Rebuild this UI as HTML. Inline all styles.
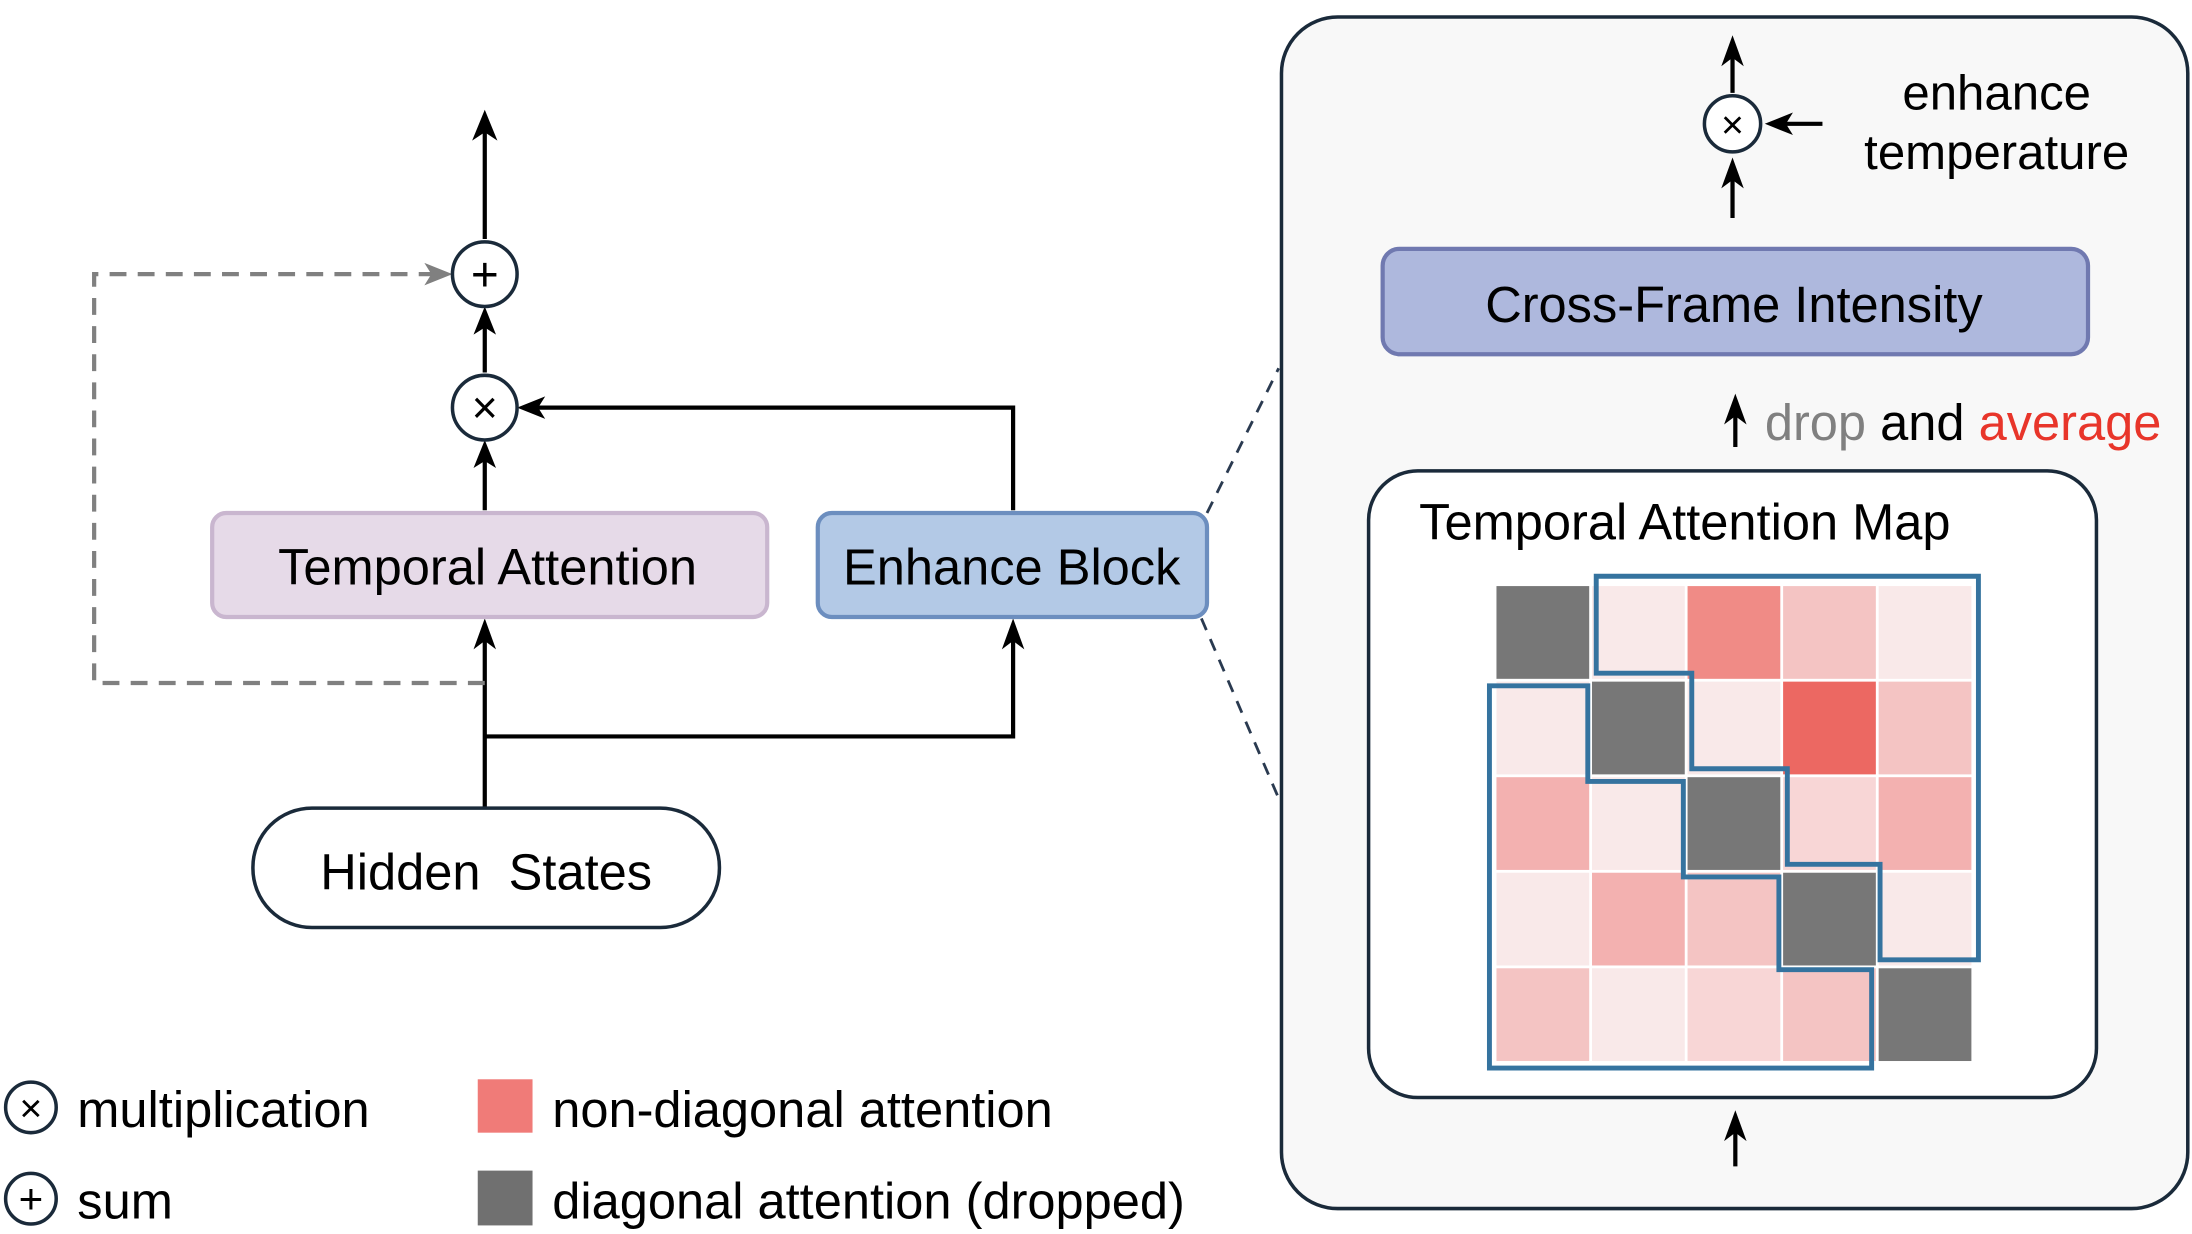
<!DOCTYPE html>
<html><head><meta charset="utf-8"><style>
html,body{margin:0;padding:0;background:#fff;}
svg{display:block;font-family:"Liberation Sans",Arial,sans-serif;}
</style></head><body>
<svg width="2192" height="1234" viewBox="0 0 1560 878" xmlns="http://www.w3.org/2000/svg">
<rect width="1560" height="878" fill="#fff"/>
<g stroke="#000" stroke-width="3" fill="none">
  <line x1="345" y1="170" x2="345" y2="84"/>
  <line x1="345" y1="265" x2="345" y2="224"/>
  <line x1="345" y1="363" x2="345" y2="318"/>
  <polyline points="721,363 721,290 374,290"/>
  <line x1="345" y1="575" x2="345" y2="446"/>
  <polyline points="345,524 721,524 721,446"/>
</g>
<g fill="#000">
  <path d="M345,78 L336,100 L345,94 L354,100Z"/>
  <path d="M345,218 L337,238 L345,233 L353,238Z"/>
  <path d="M345,313 L337,333 L345,328 L353,333Z"/>
  <path d="M368,290 L388,282 L383,290 L388,298Z"/>
  <path d="M345,440 L337,462 L345,456 L353,462Z"/>
  <path d="M721,440 L713,462 L721,456 L729,462Z"/>
</g>
<polyline points="345,486 67,486 67,195 314,195" fill="none" stroke="#808080" stroke-width="3" stroke-dasharray="12,8"/>
<path d="M322,195 L302,187 L307,195 L302,203Z" fill="#808080"/>
<circle cx="345" cy="195" r="23" fill="#fff" stroke="#1a2a3a" stroke-width="2.5"/>
<text x="345" y="207" font-size="34" text-anchor="middle">+</text>
<circle cx="345" cy="290" r="23" fill="#fff" stroke="#1a2a3a" stroke-width="2.5"/>
<text x="345" y="301" font-size="32" text-anchor="middle">×</text>
<rect x="151" y="365" width="395" height="74" rx="10" fill="#e6dae8" stroke="#c9b6cf" stroke-width="3"/>
<text x="347" y="416" font-size="36" text-anchor="middle">Temporal Attention</text>
<rect x="582" y="365" width="277" height="74" rx="10" fill="#b3c9e6" stroke="#6c8ebf" stroke-width="3"/>
<text x="720" y="416" font-size="36" text-anchor="middle">Enhance Block</text>
<rect x="180" y="575" width="332" height="85" rx="42" fill="#fff" stroke="#1a2a3a" stroke-width="2.5"/>
<text x="346" y="633" font-size="36" text-anchor="middle" xml:space="preserve">Hidden  States</text>
<g stroke="#2a3a50" stroke-width="2" stroke-dasharray="9,7">
  <line x1="859" y1="365" x2="910" y2="262"/>
  <line x1="855" y1="440" x2="910" y2="568"/>
</g>
<rect x="912" y="12" width="645" height="848" rx="40" fill="#f8f8f8" stroke="#1a2a3a" stroke-width="2.5"/>
<g stroke="#000" stroke-width="3" fill="none">
  <line x1="1233" y1="66" x2="1233" y2="32"/>
  <line x1="1233" y1="155" x2="1233" y2="118"/>
  <line x1="1297" y1="88" x2="1262" y2="88"/>
  <line x1="1235" y1="318" x2="1235" y2="286"/>
  <line x1="1235" y1="830" x2="1235" y2="797"/>
</g>
<g fill="#000">
  <path d="M1233,25 L1225,47 L1233,41 L1241,47Z"/>
  <path d="M1233,112 L1225,134 L1233,128 L1241,134Z"/>
  <path d="M1256,88 L1276,80 L1271,88 L1276,96Z"/>
  <path d="M1235,280 L1227,302 L1235,296 L1243,302Z"/>
  <path d="M1235,790 L1227,812 L1235,806 L1243,812Z"/>
</g>
<circle cx="1233" cy="88" r="20" fill="#fff" stroke="#1a2a3a" stroke-width="2.5"/>
<text x="1233" y="98" font-size="28" text-anchor="middle">×</text>
<text x="1421" y="78" font-size="35" text-anchor="middle">enhance</text>
<text x="1421" y="120" font-size="35" text-anchor="middle">temperature</text>
<rect x="984" y="177" width="502" height="75" rx="12" fill="#aeb8dd" stroke="#7079b0" stroke-width="3"/>
<text x="1234" y="229" font-size="36" text-anchor="middle">Cross-Frame Intensity</text>
<text x="1256" y="313" font-size="36"><tspan fill="#808080">drop</tspan> <tspan fill="#000">and</tspan> <tspan fill="#e8352a">average</tspan></text>
<rect x="974" y="335" width="518" height="446" rx="35" fill="#fff" stroke="#1a2a3a" stroke-width="2.5"/>
<text x="1010" y="384" font-size="36">Temporal Attention Map</text>
<g>
<rect x="1065" y="417" width="66" height="66" fill="#777"/>
<rect x="1133" y="417" width="66" height="66" fill="#f9e9e9"/>
<rect x="1201" y="417" width="66" height="66" fill="#f08b86"/>
<rect x="1269" y="417" width="66" height="66" fill="#f4c4c3"/>
<rect x="1337" y="417" width="66" height="66" fill="#f9e9e9"/>
<rect x="1065" y="485" width="66" height="66" fill="#f9e9e9"/>
<rect x="1133" y="485" width="66" height="66" fill="#777"/>
<rect x="1201" y="485" width="66" height="66" fill="#f9e9e9"/>
<rect x="1269" y="485" width="66" height="66" fill="#ec6862"/>
<rect x="1337" y="485" width="66" height="66" fill="#f4c4c3"/>
<rect x="1065" y="553" width="66" height="66" fill="#f3b1b0"/>
<rect x="1133" y="553" width="66" height="66" fill="#f9e9e9"/>
<rect x="1201" y="553" width="66" height="66" fill="#777"/>
<rect x="1269" y="553" width="66" height="66" fill="#f8d6d6"/>
<rect x="1337" y="553" width="66" height="66" fill="#f3b1b0"/>
<rect x="1065" y="621" width="66" height="66" fill="#f9e9e9"/>
<rect x="1133" y="621" width="66" height="66" fill="#f3b1b0"/>
<rect x="1201" y="621" width="66" height="66" fill="#f4c4c3"/>
<rect x="1269" y="621" width="66" height="66" fill="#777"/>
<rect x="1337" y="621" width="66" height="66" fill="#f9e9e9"/>
<rect x="1065" y="689" width="66" height="66" fill="#f4c4c3"/>
<rect x="1133" y="689" width="66" height="66" fill="#f9e9e9"/>
<rect x="1201" y="689" width="66" height="66" fill="#f8d6d6"/>
<rect x="1269" y="689" width="66" height="66" fill="#f4c4c3"/>
<rect x="1337" y="689" width="66" height="66" fill="#777"/>
</g>
<g fill="none" stroke="#35739f" stroke-width="3.5">
<polygon points="1136,410 1408,410 1408,683 1338,683 1338,615 1272,615 1272,547 1204,547 1204,479 1136,479"/>
<polygon points="1060,488 1130,488 1130,556 1198,556 1198,624 1266,624 1266,690 1332,690 1332,760 1060,760"/>
</g>
<circle cx="22" cy="788" r="18" fill="#fff" stroke="#1a2a3a" stroke-width="2.5"/>
<text x="22" y="798" font-size="28" text-anchor="middle">×</text>
<text x="55" y="802" font-size="36">multiplication</text>
<circle cx="22" cy="853" r="18" fill="#fff" stroke="#1a2a3a" stroke-width="2.5"/>
<text x="22" y="863" font-size="30" text-anchor="middle">+</text>
<text x="55" y="867" font-size="36">sum</text>
<rect x="340" y="768" width="39" height="38" fill="#f07b78"/>
<text x="393" y="802" font-size="36">non-diagonal attention</text>
<rect x="340" y="833" width="39" height="39" fill="#707070"/>
<text x="393" y="867" font-size="36">diagonal attention (dropped)</text>
</svg>
</body></html>
